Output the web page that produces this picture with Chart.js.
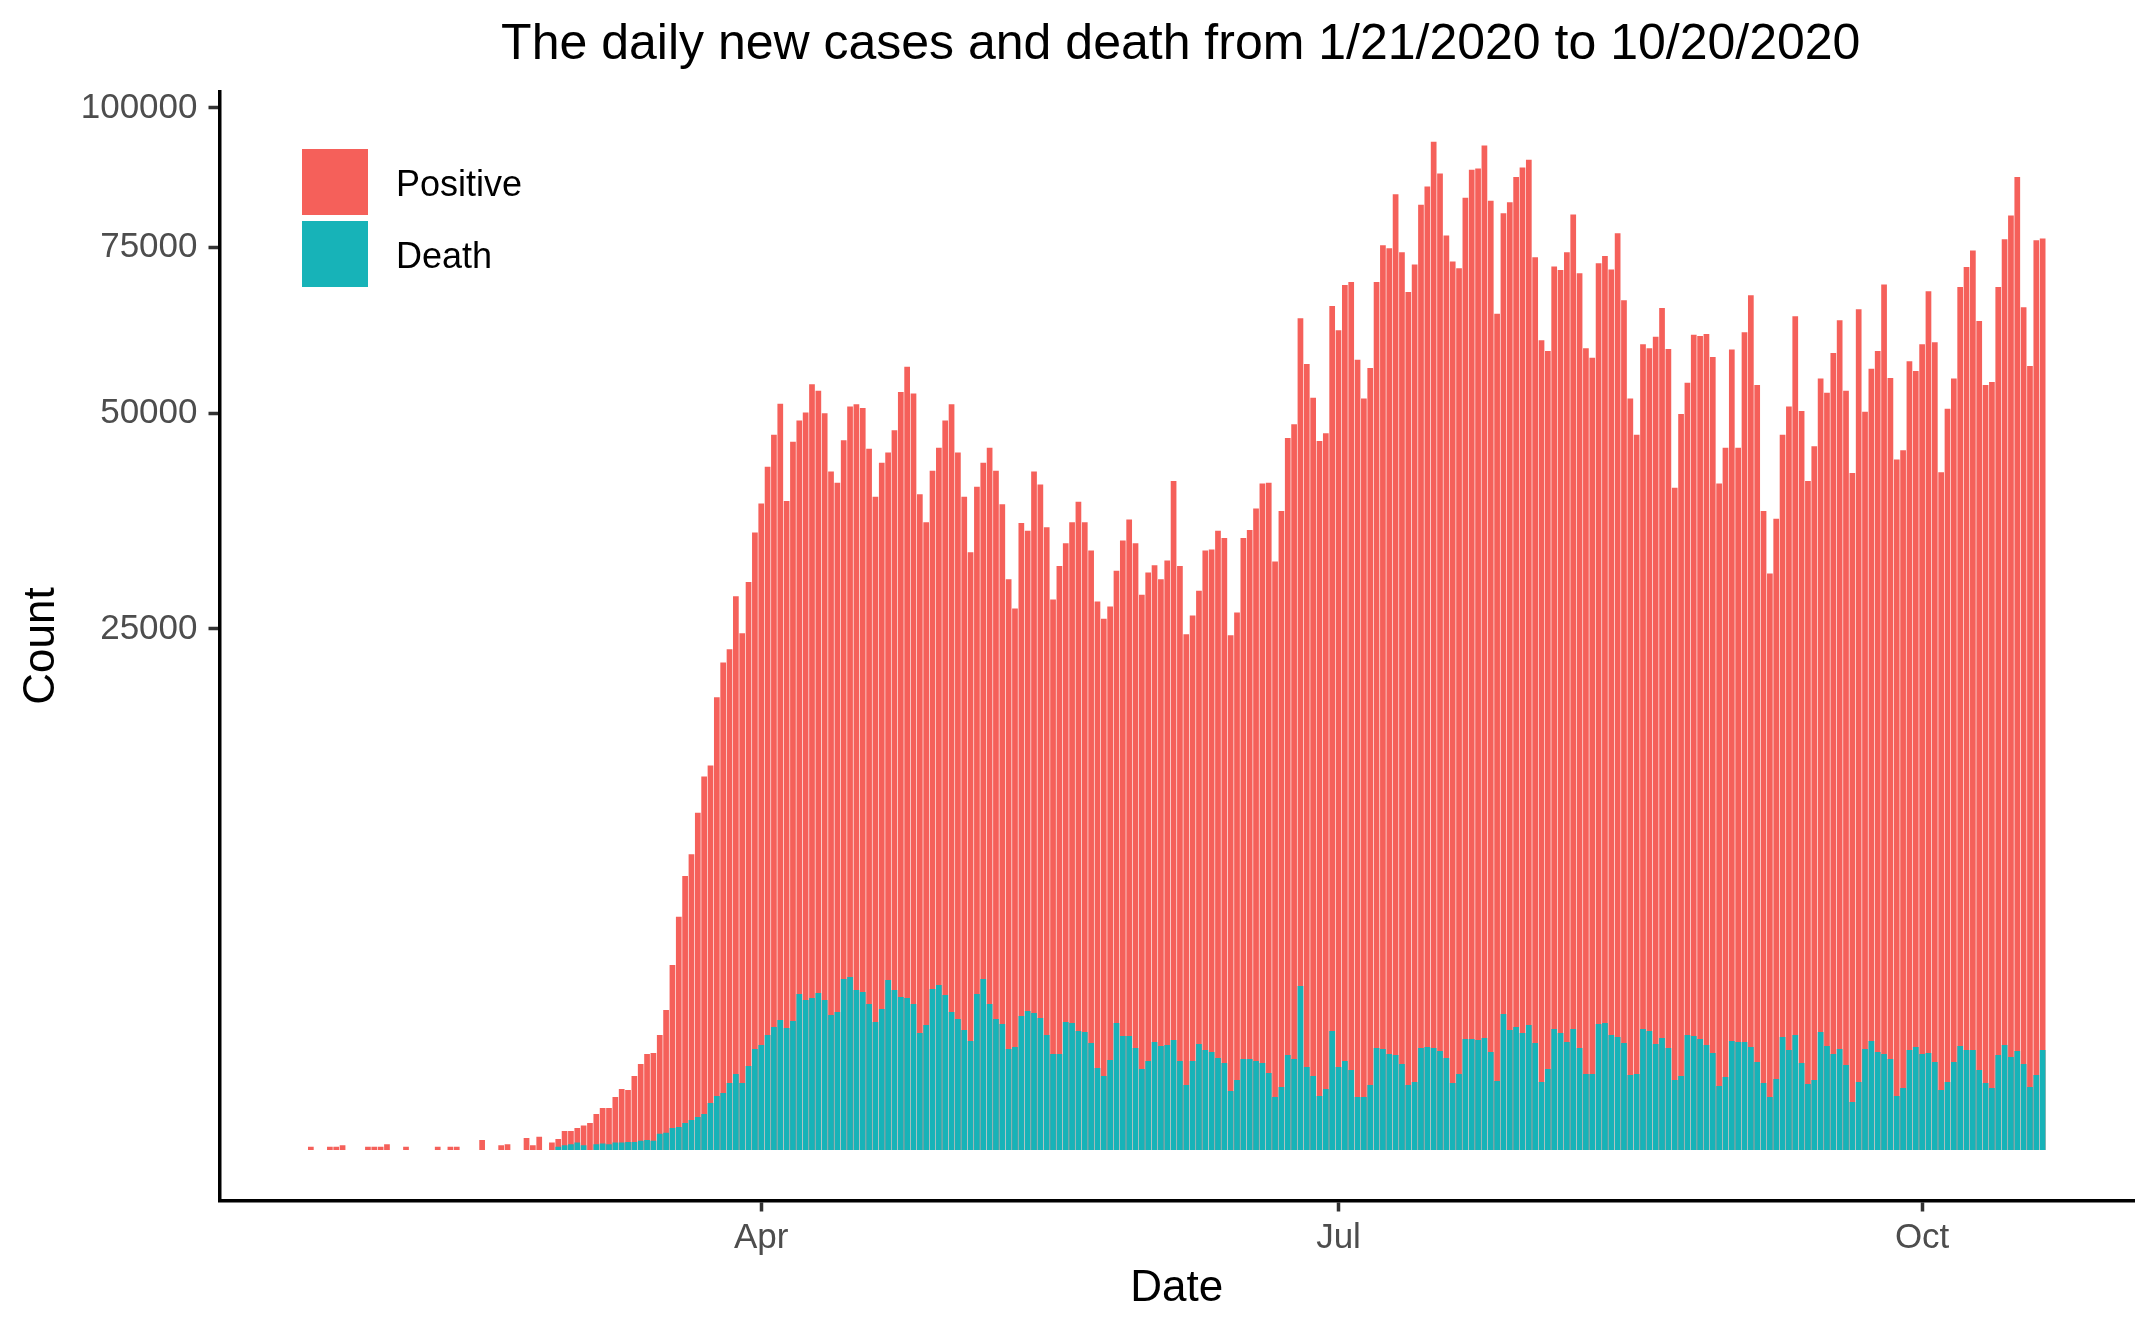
<!DOCTYPE html>
<html>
<head>
<meta charset="utf-8">
<script src="https://cdn.jsdelivr.net/npm/chart.js@4.4.1/dist/chart.umd.min.js"></script>
<style>
  html, body { margin: 0; padding: 0; background: #ffffff; }
  #wrap { width: 2156px; height: 1332px; }
</style>
</head>
<body>
<div id="wrap"><canvas id="casesChart" width="2156" height="1332"></canvas></div>
<script>
// first day of the series, one bar per day up to 10/20/2020
const startDate = '2020-01-21';

// daily new positive cases
const positive = [
    1, 0, 0, 1, 1, 2, 0, 0, 0, 1,
    1, 1, 3, 0, 0, 1, 0, 0, 0, 0,
    1, 0, 1, 1, 0, 0, 0, 9, 0, 0,
    2, 3, 0, 0, 13, 2, 16, 0, 5, 11,
    33, 33, 45, 55, 67, 119, 162, 162, 259, 343,
    332, 504, 681, 849, 867, 1218, 1805, 3152, 5010, 6911,
    8055, 10470, 12848, 13610, 18876, 21896, 23087, 28238, 24600, 29700,
    35100, 38500, 43000, 47100, 51300, 38800, 46200, 49000, 50100, 54000,
    53100, 50000, 42400, 41000, 46400, 50900, 51200, 50700, 45300, 39300,
    43500, 44800, 47700, 52900, 56500, 52700, 39600, 36300, 42500, 45400,
    49000, 51200, 44800, 39300, 32900, 40500, 43500, 45400, 42500, 38400,
    30000, 27000, 36200, 35300, 42400, 40800, 35700, 27900, 31400, 33900,
    36300, 38700, 36300, 33100, 27700, 26000, 27200, 30900, 34200, 36600,
    33900, 28400, 30700, 31500, 30000, 32000, 41200, 31400, 24500, 26300,
    28800, 33100, 33200, 35300, 34500, 24400, 26600, 34500, 35400, 37900,
    40900, 41000, 31900, 37600, 46700, 48500, 63700, 56900, 52100, 46300,
    47300, 65600, 61900, 68900, 69400, 57500, 52000, 56300, 69400, 75400,
    74900, 84100, 74200, 67800, 72200, 82300, 85500, 93600, 87800, 77000,
    72700, 71600, 83500, 88500, 88700, 92900, 83000, 64400, 80800, 82700,
    87200, 88900, 90300, 73400, 60400, 58800, 71900, 71300, 74200, 80600,
    70800, 59200, 57800, 72400, 73600, 71400, 77400, 66500, 52000, 47100,
    59800, 59200, 60900, 65300, 59100, 40400, 49900, 54200, 61200, 61000,
    61300, 57900, 40900, 45400, 59000, 45400, 61600, 67300, 53900, 37600,
    30600, 36700, 47100, 50900, 64000, 50300, 41200, 45600, 54800, 52800,
    58500, 63400, 53100, 42200, 65100, 50200, 56200, 58800, 69000, 54900,
    43900, 45100, 57300, 55900, 59800, 67900, 60100, 42300, 50600, 54800,
    68600, 71800, 74500, 63300, 53900, 54300, 68600, 76400, 80400, 87200,
    65400, 56600, 76200, 76500
];

// daily new deaths
const death = [
    0, 0, 0, 0, 0, 0, 0, 0, 0, 0,
    0, 0, 0, 0, 0, 0, 0, 0, 0, 0,
    0, 0, 0, 0, 0, 0, 0, 0, 0, 0,
    0, 0, 0, 0, 0, 0, 0, 0, 0, 1,
    2, 3, 5, 2, 0, 3, 4, 3, 5, 5,
    6, 6, 8, 9, 8, 24, 27, 45, 49, 67,
    83, 100, 119, 203, 269, 299, 413, 532, 413, 650,
    939, 1015, 1218, 1393, 1556, 1371, 1533, 2241, 2072, 2128,
    2270, 2072, 1679, 1754, 2693, 2756, 2358, 2299, 1963, 1509,
    1831, 2662, 2358, 2156, 2128, 1963, 1261, 1439, 2387, 2507,
    2213, 1754, 1580, 1326, 1094, 2241, 2693, 1963, 1580, 1462,
    939, 977, 1654, 1780, 1729, 1605, 1218, 849, 849, 1509,
    1485, 1304, 1282, 1054, 619, 504, 746, 1485, 1197, 1197,
    958, 604, 730, 1074, 996, 1015, 1114, 730, 389, 730,
    1035, 921, 885, 780, 697, 321, 451, 763, 763, 730,
    697, 546, 259, 366, 831, 763, 2477, 634, 504, 269,
    343, 1304, 634, 730, 589, 259, 259, 389, 958, 939,
    849, 831, 681, 389, 426, 958, 977, 958, 903, 780,
    413, 532, 1135, 1135, 1114, 1155, 885, 438, 1703, 1326,
    1393, 1261, 1439, 1054, 426, 604, 1348, 1261, 1074, 1348,
    958, 532, 532, 1462, 1485, 1218, 1176, 1054, 518, 532,
    1348, 1304, 1035, 1155, 958, 451, 504, 1218, 1197, 1135,
    1015, 867, 377, 491, 1094, 1074, 1074, 977, 713, 413,
    259, 464, 1176, 921, 1218, 697, 401, 451, 1282, 996,
    849, 939, 665, 212, 426, 939, 1094, 885, 849, 763,
    269, 354, 921, 977, 849, 867, 713, 332, 426, 713,
    996, 921, 921, 589, 413, 354, 831, 1015, 797, 903,
    681, 366, 518, 921
];

const yTicks = [25000, 50000, 75000, 100000];
const xTickDates = ['2020-04-01', '2020-07-01', '2020-10-01'];
const xTickLabels = ['Apr', 'Jul', 'Oct'];

const seriesLabels = ['Positive', 'Death'];
const seriesColors = ['#F5605A', '#17B3B8'];
const chartTitle = 'The daily new cases and death from 1/21/2020 to 10/20/2020';

function dayIndex(dateStr) {
    return Math.round((Date.parse(dateStr) - Date.parse(startDate)) / 86400000);
}

// square-root y axis, like scale_y_sqrt
class SqrtScale extends Chart.LinearScale {
    _t(v) {
        return Math.sign(v) * Math.sqrt(Math.abs(v));
    }
    getPixelForValue(value) {
        const lo = this._t(this.min);
        const hi = this._t(this.max);
        return this.getPixelForDecimal((this._t(value) - lo) / (hi - lo));
    }
    getValueForPixel(pixel) {
        const lo = this._t(this.min);
        const hi = this._t(this.max);
        const s = lo + this.getDecimalForPixel(pixel) * (hi - lo);
        return Math.sign(s) * s * s;
    }
}
SqrtScale.id = 'sqrt';
SqrtScale.defaults = Chart.LinearScale.defaults;
Chart.register(SqrtScale);

// title centred over the panel, legend inside the panel top left
const panelDecor = {
    id: 'panelDecor',
    afterDraw(chart) {
        const ctx = chart.ctx;
        const area = chart.chartArea;
        ctx.save();

        ctx.font = '50px "Liberation Sans", Arial, sans-serif';
        ctx.fillStyle = '#000000';
        ctx.textAlign = 'center';
        ctx.textBaseline = 'middle';
        ctx.fillText(chartTitle, (area.left + area.right) / 2 + 4, 45);

        ctx.font = '36px "Liberation Sans", Arial, sans-serif';
        ctx.textAlign = 'left';
        seriesLabels.forEach((label, i) => {
            const top = 149 + i * 72;
            ctx.fillStyle = seriesColors[i];
            ctx.fillRect(302, top, 66, 66);
            ctx.fillStyle = '#000000';
            ctx.fillText(label, 396, top + 37);
        });
        ctx.restore();
    }
};

Chart.defaults.font.family = '"Liberation Sans", Arial, sans-serif';

const ctx = document.getElementById('casesChart').getContext('2d');

new Chart(ctx, {
    type: 'bar',
    data: {
        datasets: [
            {
                label: seriesLabels[1],
                data: death.map((v, i) => ({ x: i, y: v })),
                backgroundColor: seriesColors[1],
                borderWidth: 0
            },
            {
                label: seriesLabels[0],
                data: positive.map((v, i) => ({ x: i, y: v })),
                backgroundColor: seriesColors[0],
                borderWidth: 0
            }
        ]
    },
    options: {
        responsive: false,
        animation: false,
        devicePixelRatio: 1,
        grouped: false,
        barPercentage: 0.9,
        categoryPercentage: 1.0,
        layout: { padding: { left: 0, right: 22, top: 91.5, bottom: 0 } },
        plugins: {
            legend: { display: false },
            tooltip: { enabled: false },
            title: { display: false }
        },
        scales: {
            x: {
                type: 'linear',
                min: -14.4,
                max: 287.4,
                offset: false,
                afterFit: function (scale) { scale.height = 131.5; },
                afterBuildTicks: function (scale) {
                    scale.ticks = xTickDates.map(d => ({ value: dayIndex(d) }));
                },
                ticks: {
                    color: '#4D4D4D',
                    font: { size: 35 },
                    padding: 6,
                    maxRotation: 0,
                    autoSkip: false,
                    callback: function (value) {
                        const k = xTickDates.findIndex(d => dayIndex(d) === value);
                        return k >= 0 ? xTickLabels[k] : '';
                    }
                },
                grid: {
                    display: true,
                    offset: false,
                    drawOnChartArea: false,
                    drawTicks: true,
                    tickLength: 11,
                    tickWidth: 3.5,
                    tickColor: '#333333'
                },
                border: { display: true, color: '#000000', width: 3.5 },
                title: {
                    display: true,
                    text: 'Date',
                    color: '#000000',
                    font: { size: 44 },
                    padding: { top: 0, bottom: 17 }
                }
            },
            y: {
                type: 'sqrt',
                min: -235,
                max: 103180,
                afterFit: function (scale) { scale.width = 219.5; },
                afterBuildTicks: function (scale) {
                    scale.ticks = yTicks.map(v => ({ value: v }));
                },
                ticks: {
                    color: '#4D4D4D',
                    font: { size: 35 },
                    padding: 11,
                    callback: function (value) { return String(value); }
                },
                grid: {
                    display: true,
                    offset: false,
                    drawOnChartArea: false,
                    drawTicks: true,
                    tickLength: 11,
                    tickWidth: 3.5,
                    tickColor: '#333333'
                },
                border: { display: true, color: '#000000', width: 3.5 },
                title: {
                    display: true,
                    text: 'Count',
                    color: '#000000',
                    font: { size: 44 },
                    padding: { top: 15, bottom: 0 }
                }
            }
        }
    },
    plugins: [panelDecor]
});
</script>
</body>
</html>
